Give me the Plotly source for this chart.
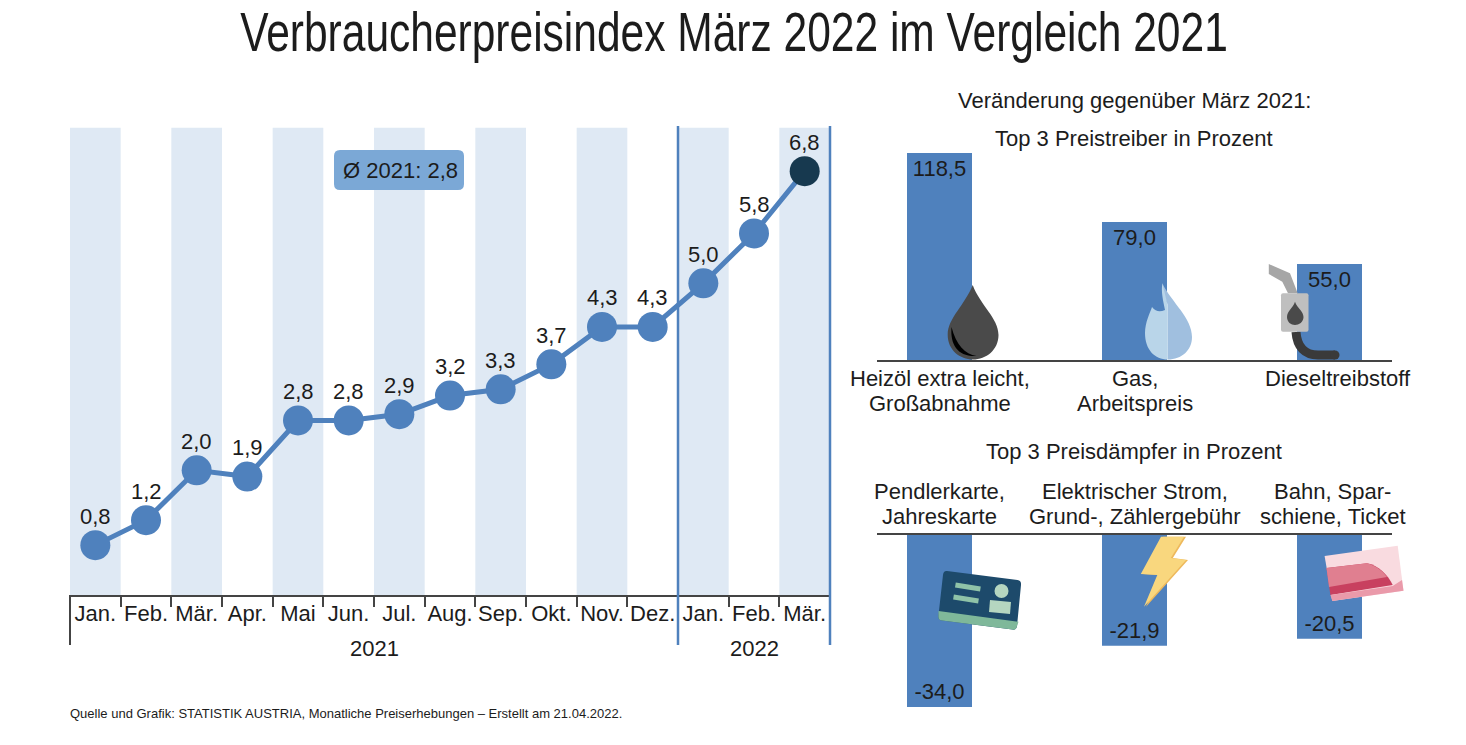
import plotly.graph_objects as go

W, H = 1466, 745

# Data
months = ['Jan.', 'Feb.', 'Mär.', 'Apr.', 'Mai', 'Jun.', 'Jul.', 'Aug.', 'Sep.', 'Okt.', 'Nov.', 'Dez.', 'Jan.', 'Feb.', 'Mär.']
cpi = [0.8, 1.2, 2.0, 1.9, 2.8, 2.8, 2.9, 3.2, 3.3, 3.7, 4.3, 4.3, 5.0, 5.8, 6.8]
up_labels = [['Heizöl extra leicht,', 'Großabnahme'], ['Gas,', 'Arbeitspreis'], ['Dieseltreibstoff']]
up_values = [118.5, 79.0, 55.0]
down_labels = [['Pendlerkarte,', 'Jahreskarte'], ['Elektrischer Strom,', 'Grund-, Zählergebühr'], ['Bahn, Spar-', 'schiene, Ticket']]
down_values = [-34.0, -21.9, -20.5]
years = ['2021', '2022']
year_pos = [5.5, 13]
cpi_band_top = 7.5

BLUE = '#4f81bd'
DARK = '#17394f'
STRIPE = '#dfe9f4'
TXT = '#1c1c1c'
FONT = 'Liberation Sans'
SIZE = 22


def de(v):
    return f'{v:.1f}'.replace('.', ',')


def dom_x(a, b):
    return [a / W, b / W]


def dom_y(top, bottom):
    return [1 - bottom / H, 1 - top / H]


fig = go.Figure()

# Left chart: stripes, line
stripe_x = [i for i in range(len(months)) if i % 2 == 0]
fig.add_trace(go.Bar(x=stripe_x, y=[cpi_band_top] * len(stripe_x), width=1, marker=dict(color=STRIPE, line_width=0),
                     xaxis='x', yaxis='y', hoverinfo='skip'))
fig.add_trace(go.Scatter(x=list(range(len(months))), y=cpi, mode='lines+markers',
                         line=dict(color=BLUE, width=5),
                         marker=dict(size=30, color=[BLUE] * 14 + [DARK], line_width=0),
                         cliponaxis=False, xaxis='x', yaxis='y'))

# Right charts
fig.add_trace(go.Bar(x=[0, 1, 2], y=up_values, width=1 / 3, marker=dict(color=BLUE, line_width=0),
                     text=[de(v) for v in up_values], textposition='inside', insidetextanchor='end', textangle=0,
                     textfont=dict(size=SIZE, color=TXT, family=FONT), xaxis='x2', yaxis='y2'))
fig.add_trace(go.Bar(x=[0, 1, 2], y=down_values, width=1 / 3, marker=dict(color=BLUE, line_width=0),
                     text=[de(v) for v in down_values], textposition='inside', insidetextanchor='end', textangle=0,
                     textfont=dict(size=SIZE, color=TXT, family=FONT), xaxis='x3', yaxis='y3'))

side_pad = 62.5 / 195
tick_font = dict(size=SIZE, color=TXT, family=FONT)

fig.update_layout(
    width=W, height=H, margin=dict(l=0, r=0, t=0, b=0),
    paper_bgcolor='white', plot_bgcolor='rgba(0,0,0,0)',
    showlegend=False, barmode='overlay', font=dict(family=FONT, color=TXT),
    xaxis=dict(domain=dom_x(70, 830), range=[-0.5, 14.5], tickmode='array', tickvals=list(range(15)), ticktext=months,
               tickangle=0, ticks='', showgrid=False, zeroline=False, showline=True, linecolor='#444444', linewidth=2,
               tickfont=tick_font, ticklabelstandoff=-2, automargin=False,
               minor=dict(tickmode='array', tickvals=[i + 0.5 for i in range(-1, 15)], ticks='outside', ticklen=10,
                          tickwidth=2, tickcolor='#444444', showgrid=False)),
    yaxis=dict(domain=dom_y(127.5, 595), range=[0, cpi_band_top], visible=False, automargin=False),
    xaxis2=dict(domain=dom_x(877, 1392), range=[-side_pad, 2 + side_pad], showticklabels=False, ticks='', showgrid=False,
                zeroline=False, showline=True, linecolor='#444444', linewidth=2, anchor='y2', automargin=False),
    yaxis2=dict(domain=dom_y(150.4, 360), range=[0, 120], visible=False, anchor='x2', automargin=False),
    xaxis3=dict(domain=dom_x(877, 1392), range=[-side_pad, 2 + side_pad], showticklabels=False, ticks='', side='top',
                showgrid=False, zeroline=False, showline=True, linecolor='#444444', linewidth=2, anchor='y3', automargin=False),
    yaxis3=dict(domain=dom_y(535, 712), range=[-35, 0], visible=False, anchor='x3', automargin=False),
    # page sized axes for the decoration, units are pixels
    xaxis4=dict(domain=[0, 1], range=[0, W], visible=False, anchor='y4', automargin=False),
    yaxis4=dict(domain=[0, 1], range=[H, 0], visible=False, anchor='x4', automargin=False),
)


def note(x, y, text, size=SIZE, anchor='center'):
    fig.add_annotation(xref='x4', yref='y4', x=x, y=y, text=text, showarrow=False, xanchor=anchor, yanchor='middle',
                       font=dict(size=size, color=TXT, family=FONT))


def shape(path, fill, line=None, width=0):
    fig.add_shape(type='path', path=path, xref='x4', yref='y4', fillcolor=fill, layer='above',
                  line=dict(color=line or fill, width=width))


note(734, 32, 'Verbraucherpreisindex März 2022 im Vergleich 2021', size=55)
note(1134, 100, 'Veränderung gegenüber März 2021:')
note(1134, 138, 'Top 3 Preistreiber in Prozent')
note(1134, 451, 'Top 3 Preisdämpfer in Prozent')
note(68, 713, 'Quelle und Grafik: STATISTIK AUSTRIA, Monatliche Preiserhebungen – Erstellt am 21.04.2022.', size=13, anchor='left')

# Point labels
for i, v in enumerate(cpi):
    fig.add_annotation(xref='x', yref='y', x=i, y=v, yshift=29, text=de(v), showarrow=False, font=tick_font)

for yr, pos in zip(years, year_pos):
    fig.add_annotation(xref='x', yref='y4', x=pos, y=648, text=yr, showarrow=False, font=tick_font)

# Bar captions, line by line because of the tight leading
for ax, labels, first_y, shifts in [('x2', up_labels, 378, [0, 0, 8]), ('x3', down_labels, 491, [0, 0, 3])]:
    for i, lines in enumerate(labels):
        for j, line in enumerate(lines):
            fig.add_annotation(xref=ax, yref='y4', x=i, y=first_y + 25 * j, xshift=shifts[i], text=line, showarrow=False, font=tick_font)

# Year separators, on the page axes so they are not clipped at the plot edge
fig.add_shape(type='line', xref='x4', yref='y4', x0=70, x1=70, y0=595, y1=645, line=dict(color='#444444', width=2), layer='above')
for px in [678, 830]:
    fig.add_shape(type='line', xref='x4', yref='y4', x0=px, x1=px, y0=126, y1=645, line=dict(color=BLUE, width=2.5), layer='above')

# Average box
shape('M340,150 L458,150 Q464,150 464,156 L464,184 Q464,190 458,190 L340,190 Q334,190 334,184 L334,156 Q334,150 340,150 Z', '#7ba8d6')
note(400.5, 170, 'Ø 2021: 2,8')

# Oil drop
shape('M972.7,285 C965,305 947.7,318 947.7,335 C947.7,350 960,359.5 973,359.5 C986,359.5 998.5,350 998.5,335 C998.5,318 980,305 972.7,285 Z', '#4a4a4a')
shape('M951.5,327 C950,345 958,357 976.5,356 C965,354 956,345 951.5,327 Z', '#000000')

# Flame
shape('M1167.7,359.5 C1182,359.5 1192,350 1192,337 C1192,318 1172,303 1162.3,283.3 C1163,293 1166,300 1167.7,305 Z', '#a0bfdf')
shape('M1167.7,359.5 C1155,359.5 1145,350 1145,333 C1145,322 1150,313 1152,307 C1156,312 1160,312 1165,310 C1163,300 1161,292 1162.3,283.3 L1167.7,305 Z', '#b9d5e9')

# Fuel nozzle
shape('M1268.8,264 L1290,273.3 L1297.7,293.3 L1288,293.3 L1282.3,281.7 L1268.8,274 Z', '#a6a6a6')
fig.add_shape(type='path', path='M1296,332 C1297,347 1305,355 1318,355 L1335,355', xref='x4', yref='y4', layer='above',
              line=dict(color='#3a3a3a', width=9))
fig.add_shape(type='circle', xref='x4', yref='y4', x0=1330.5, x1=1339.5, y0=350.5, y1=359.5, fillcolor='#3a3a3a', line_width=0, layer='above')
shape('M1283,293.3 L1306.5,293.3 Q1308.5,293.3 1308.5,295.3 L1308.5,329.7 Q1308.5,331.7 1306.5,331.7 L1283,331.7 Q1281,331.7 1281,329.7 L1281,295.3 Q1281,293.3 1283,293.3 Z', '#bfbfbf')
shape('M1295,301.7 C1293,308 1287,311 1287,317 C1287,322 1291,325 1295,325 C1299,325 1303.5,322 1303.5,317 C1303.5,311 1297,308 1295,301.7 Z', '#4a4a4a')

# Commuter card
shape('M947,571 L1017.5,580 Q1021.5,580.7 1021,585 L1017,626 Q1016.5,630 1012.5,629.6 L942,620.6 Q938,620 938.4,616 L943,575 Q943.4,570.6 947,571 Z', '#1d4a6b')
shape('M938.5,611 L1018.5,621.7 L1017,626 Q1016.5,630 1012.5,629.6 L942,620.6 Q938,620 938.4,616 Z', '#7fb89a')
for seg in ['M955.4,585 L980.4,589', 'M953.5,597 L978.5,601']:
    fig.add_shape(type='path', path=seg, xref='x4', yref='y4', layer='above', line=dict(color='#8fc3a8', width=5))
fig.add_shape(type='circle', xref='x4', yref='y4', x0=994.5, x1=1008.5, y0=584, y1=598, fillcolor='#b5d6c0', line_width=0, layer='above')
shape('M990,600 L1011,602 L1010,614 L989,612 Z', '#b5d6c0')

# Lightning
shape('M1163,536.7 L1186,536.7 L1172.8,558 L1188,560 L1146,606.7 L1159.3,575 L1142.8,574 Z', '#eeb95c')
shape('M1161,536.7 L1184,536.7 L1170.8,558 L1186,560 L1144,606.7 L1157.3,575 L1140.8,574 Z', '#f9d77e')

# Train ticket
shape('M1324.6,556 L1397.7,545.7 L1403.5,590.7 L1332.3,601 Z', '#f9dbe0')
shape('M1326.5,568 L1367,563.3 C1378,565 1388,575 1392.7,585 L1330.4,595 Z', '#c8405f')
shape('M1326.5,568 L1367,563.3 C1374,565 1382,570 1387,577 L1329,587 Z', '#e07f90')
shape('M1332.3,601 L1403.5,590.7 L1402,580 L1392.7,586 L1330.4,595 Z', '#ea9aaa')

# No narrow font is installed, so the title text gets squeezed to its width
squeeze = """
document.body.style.margin = '0';
function squeezeTitle() {
  document.querySelectorAll('.annotation-text').forEach(function (t) {
    if (t.textContent.indexOf('Verbraucher') === 0) {
      var cx = parseFloat(t.getAttribute('x')) || 0;
      var k = 988 / t.getComputedTextLength();
      t.setAttribute('transform', 'translate(' + cx + ',0) scale(' + k + ',1) translate(' + (-cx) + ',0)');
    }
  });
}
squeezeTitle();
document.getElementById('{plot_id}').on('plotly_afterplot', squeezeTitle);
"""
fig.write_html('out.html', post_script=squeeze, config=dict(displayModeBar=False))
